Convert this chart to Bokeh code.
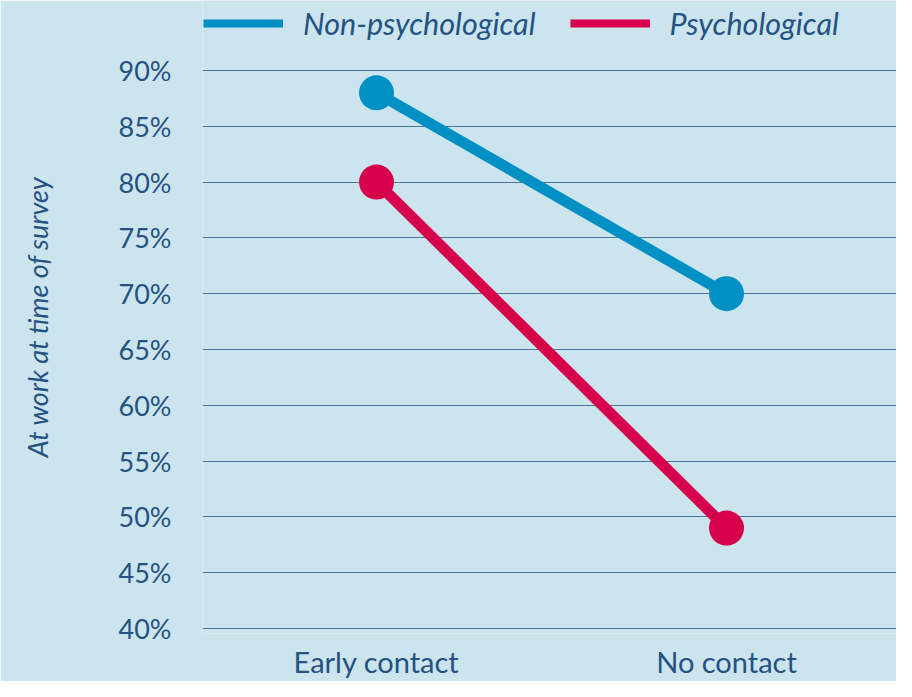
from bokeh.plotting import figure
from bokeh.models import Legend, LegendItem, FixedTicker, Range1d
from bokeh.embed import file_html
from bokeh.resources import INLINE

# ---- data ----
categories = ["Early contact", "No contact"]
non_psychological = [88, 70]
psychological = [80, 49]
y_ticks = [40, 45, 50, 55, 60, 65, 70, 75, 80, 85, 90]
y_tick_labels = ["40%", "45%", "50%", "55%", "60%", "65%", "70%", "75%", "80%", "85%", "90%"]
series_names = ["Non-psychological", "Psychological"]

BG = "#cce4ee"
TEXT = "#245283"
GRID = "#4d7699"
BLUE = "#0090c4"
RED = "#d7004b"

xs = list(range(len(categories)))

p = figure(width=896, height=681, output_backend="svg", toolbar_location=None,
           x_range=Range1d(-0.49714, 1.48571), y_range=Range1d(39.552, 96.272),
           min_border_left=202, min_border_right=0, min_border_top=0, min_border_bottom=48)
p.background_fill_color = BG
p.border_fill_color = BG
p.outline_line_color = None

# thinner copies underneath, used as legend swatches
lg1 = p.line(xs, non_psychological, line_color=BLUE, line_width=8)
lg2 = p.line(xs, psychological, line_color=RED, line_width=8)

# lines and markers
p.line(xs, non_psychological, line_color=BLUE, line_width=11)
p.scatter(xs, non_psychological, size=35, fill_color=BLUE, line_color=None)
p.line(xs, psychological, line_color=RED, line_width=11)
p.scatter(xs, psychological, size=35, fill_color=RED, line_color=None)

legend = Legend(items=[LegendItem(label=series_names[0], renderers=[lg1]),
                       LegendItem(label=series_names[1], renderers=[lg2])],
                orientation="horizontal", location=(1, 592),
                glyph_width=80, glyph_height=34, label_standoff=20, spacing=34,
                padding=0, margin=0, border_line_color=None,
                background_fill_alpha=0,
                label_text_font="Lato", label_text_font_style="italic",
                label_text_font_size="30.5px", label_text_color=TEXT,
                label_height=34)
p.add_layout(legend, "center")

# axes
p.xaxis.ticker = FixedTicker(ticks=xs)
p.xaxis.major_label_overrides = {i: c for i, c in enumerate(categories)}
p.xaxis.major_label_text_font = "Lato"
p.xaxis.major_label_text_font_size = "29px"
p.xaxis.major_label_text_color = TEXT
p.xaxis.major_label_standoff = 4
p.xaxis.axis_line_color = None
p.xaxis.major_tick_line_color = None
p.xaxis.minor_tick_line_color = None

p.yaxis.ticker = FixedTicker(ticks=y_ticks)
p.yaxis.major_label_overrides = {t: l for t, l in zip(y_ticks, y_tick_labels)}
p.yaxis.major_label_text_font = "Lato"
p.yaxis.major_label_text_font_size = "27px"
p.yaxis.major_label_text_color = TEXT
p.yaxis.major_label_standoff = 25
p.yaxis.axis_line_color = None
p.yaxis.major_tick_line_color = None
p.yaxis.minor_tick_line_color = None
p.yaxis.axis_label = "At work at time of survey"
p.yaxis.axis_label_text_font = "Lato"
p.yaxis.axis_label_text_font_style = "italic"
p.yaxis.axis_label_text_font_size = "27px"
p.yaxis.axis_label_text_color = TEXT
p.yaxis.axis_label_standoff = 62

p.xgrid.grid_line_color = None
p.ygrid.grid_line_color = GRID
p.ygrid.grid_line_width = 1

open("out.html", "w").write(file_html(p, INLINE))
